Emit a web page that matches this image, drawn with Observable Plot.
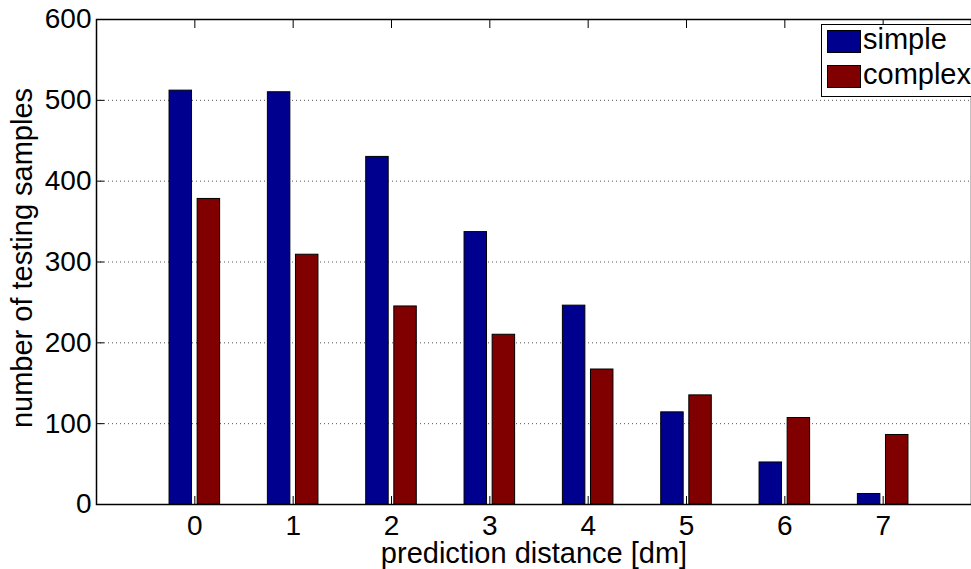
<!DOCTYPE html>
<html>
<head>
<meta charset="utf-8">
<script src="https://cdn.jsdelivr.net/npm/d3@7"></script>
<script src="https://cdn.jsdelivr.net/npm/@observablehq/plot@0.6"></script>
<style>
  html, body { margin: 0; padding: 0; background: #fff; overflow: hidden; }
  #wrap { position: relative; width: 971px; height: 569px; overflow: hidden; }
  #wrap svg { overflow: hidden; }
  .legend {
    position: absolute; left: 821px; top: 24px; width: 200px; height: 73px;
    border: 1px solid #000; background: #fff; box-sizing: border-box;
    font-family: "Liberation Sans", Arial, sans-serif; font-size: 29px; color: #000;
  }
  .legend .row { position: absolute; left: 5px; height: 24px; }
  .legend .sw { position: absolute; left: 0; top: 0; width: 34px; height: 23px; border: 1px solid #000; box-sizing: border-box; }
  .legend .lab { position: absolute; left: 36px; top: -7px; line-height: 32px; white-space: nowrap; }
</style>
</head>
<body>
<div id="wrap"></div>
<script>
// prediction distance categories [dm]
const distances = [0, 1, 2, 3, 4, 5, 6, 7];
// number of testing samples per distance
const simpleCounts = [512, 510, 430, 337, 246, 114, 52, 13];
const complexCounts = [378, 309, 245, 210, 167, 135, 107, 86];
const seriesNames = ["simple", "complex"];
const seriesColors = ["#00008f", "#800000"];
const yTicks = [0, 100, 200, 300, 400, 500, 600];
const gridTicks = [100, 200, 300, 400, 500];

// grouped-bar geometry (two bars per group, as in a MATLAB grouped bar)
const groupWidth = 4 / 7;
const barWidth = groupWidth / 2 * 0.8;
const offsets = [-groupWidth / 4, groupWidth / 4];

const rows = [];
seriesNames.forEach((name, s) => {
  const vals = s === 0 ? simpleCounts : complexCounts;
  distances.forEach((d, i) => {
    const c = d + offsets[s];
    rows.push({series: name, x1: c - barWidth / 2, x2: c + barWidth / 2, value: vals[i]});
  });
});

const font = "'Liberation Sans', Arial, Helvetica, sans-serif";

const chart = Plot.plot({
  width: 971,
  height: 569,
  marginLeft: 96,
  marginTop: 19,
  marginBottom: 65,
  marginRight: 0,
  style: {fontFamily: font, fontSize: "28px", color: "#000", background: "#fff", overflow: "hidden"},
  x: {domain: [-1, 8], range: [96, 981]},
  y: {domain: [0, 600]},
  color: {domain: seriesNames, range: seriesColors},
  marks: [
    Plot.gridY(gridTicks, {stroke: "#555", strokeOpacity: 1, strokeDasharray: "1,3"}),
    Plot.rectY(rows, {x1: "x1", x2: "x2", y1: 0, y2: "value", fill: "series", stroke: "#000", strokeWidth: 1}),
    Plot.frame({stroke: "#000", strokeWidth: 1.5}),
    Plot.axisX(distances, {anchor: "bottom", tickSize: -8, tickPadding: 19, label: null, fontSize: 28}),
    Plot.axisX(distances, {anchor: "top", tickSize: -8, tickFormat: () => "", label: null}),
    Plot.axisY(yTicks, {anchor: "left", tickSize: -8, tickPadding: 13, label: null, fontSize: 28}),
    Plot.text(["prediction distance [dm]"], {frameAnchor: "bottom", dy: 58, lineAnchor: "bottom", textAnchor: "middle", fontSize: 29, fill: "#000"}),
    Plot.text(["number of testing samples"], {frameAnchor: "left", dx: -65, dy: -4, rotate: -90, lineAnchor: "bottom", textAnchor: "middle", fontSize: 29, fill: "#000"})
  ]
});

const wrap = document.getElementById("wrap");
wrap.appendChild(chart);

// legend drawn over the plot area, upper right
const legend = document.createElement("div");
legend.className = "legend";
seriesNames.forEach((name, i) => {
  const row = document.createElement("div");
  row.className = "row";
  row.style.top = (i === 0 ? 5 : 40) + "px";
  const sw = document.createElement("div");
  sw.className = "sw";
  sw.style.background = seriesColors[i];
  const lab = document.createElement("div");
  lab.className = "lab";
  lab.textContent = name;
  row.appendChild(sw);
  row.appendChild(lab);
  legend.appendChild(row);
});
wrap.appendChild(legend);
</script>
</body>
</html>
